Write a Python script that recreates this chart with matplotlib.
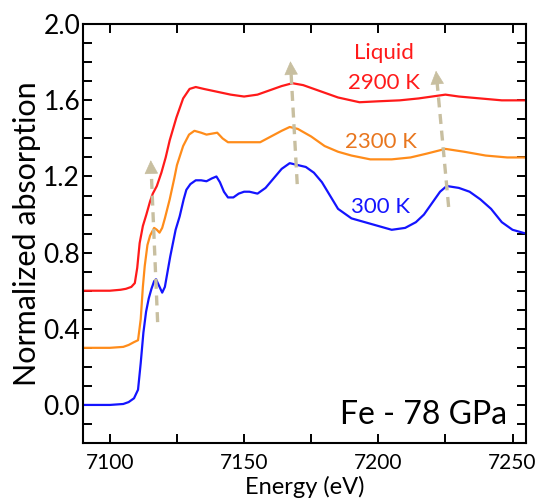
import matplotlib
matplotlib.use("Agg")
import matplotlib.pyplot as plt
from matplotlib.ticker import MultipleLocator

plt.rcParams['font.family'] = ['Lato', 'DejaVu Sans']

# 300 K (blue)
e_300 = [7090, 7100, 7105, 7107, 7109, 7110.5, 7111.5, 7112.5, 7113.5, 7114.5, 7115.5, 7116.5,
         7117.2, 7118.2, 7119.5, 7120.5, 7121.5, 7122.5, 7123.5, 7124.5, 7126, 7127.5, 7128.5,
         7130, 7132, 7134, 7136, 7138, 7139.7, 7141, 7142.5, 7144, 7146, 7148, 7150, 7152, 7155,
         7158, 7161, 7164, 7167, 7170, 7173, 7176, 7179, 7182, 7185, 7190, 7195, 7200, 7205,
         7210, 7214, 7217, 7220, 7223, 7225.5, 7230, 7234, 7238, 7242, 7246, 7250, 7255]
a_300 = [0.0, 0.0, 0.005, 0.015, 0.035, 0.08, 0.22, 0.38, 0.49, 0.56, 0.61, 0.65,
         0.66, 0.63, 0.59, 0.62, 0.70, 0.78, 0.85, 0.92, 0.99, 1.08, 1.13,
         1.16, 1.18, 1.18, 1.175, 1.19, 1.20, 1.17, 1.12, 1.09, 1.09, 1.11, 1.12, 1.12, 1.11,
         1.14, 1.19, 1.24, 1.27, 1.26, 1.25, 1.22, 1.17, 1.10, 1.03, 0.98, 0.96, 0.94, 0.92,
         0.93, 0.96, 1.00, 1.06, 1.12, 1.15, 1.14, 1.12, 1.08, 1.03, 0.96, 0.92, 0.90]

# 2300 K (orange)
e_2300 = [7090, 7100, 7105, 7107, 7109, 7110.5, 7111.5, 7112.3, 7113, 7114, 7115, 7116.5,
          7117.5, 7118.5, 7119.5, 7120.5, 7122.3, 7124, 7125, 7127.3, 7129.5, 7131.5, 7134,
          7136, 7138, 7140, 7142, 7144, 7150, 7156, 7160, 7164, 7167, 7170, 7175, 7180, 7185,
          7190, 7197, 7205, 7212, 7218, 7225, 7232, 7240, 7248, 7255]
a_2300 = [0.30, 0.30, 0.305, 0.315, 0.33, 0.34, 0.45, 0.62, 0.73, 0.84, 0.89, 0.93,
          0.92, 0.905, 0.93, 0.98, 1.08, 1.19, 1.26, 1.36, 1.42, 1.44, 1.43,
          1.42, 1.425, 1.43, 1.40, 1.38, 1.38, 1.38, 1.41, 1.44, 1.46, 1.45, 1.41, 1.36, 1.33,
          1.31, 1.29, 1.29, 1.30, 1.32, 1.345, 1.33, 1.31, 1.30, 1.30]

# 2900 K liquid (red)
e_2900 = [7090, 7100, 7104, 7106, 7108, 7109.3, 7110.2, 7111.1, 7112.3, 7113.6, 7115, 7116,
          7117.5, 7119.2, 7120.8, 7122.3, 7124.8, 7127.3, 7129.7, 7132, 7135, 7140, 7145, 7150,
          7155, 7160, 7164, 7168, 7172, 7178, 7185, 7193, 7200, 7208, 7215, 7220, 7225, 7230,
          7238, 7246, 7255]
a_2900 = [0.60, 0.60, 0.605, 0.61, 0.62, 0.64, 0.72, 0.85, 0.94, 1.00, 1.07, 1.11,
          1.15, 1.22, 1.30, 1.39, 1.51, 1.61, 1.66, 1.67, 1.66, 1.645, 1.63, 1.62,
          1.63, 1.655, 1.675, 1.69, 1.68, 1.65, 1.615, 1.59, 1.595, 1.60, 1.61, 1.62, 1.63, 1.62,
          1.61, 1.60, 1.60]

# arrows: (tail energy, tail y, tip energy, tip y)
arrows = [(7117.8, 0.435, 7115.2, 1.30),
          (7169.8, 1.16, 7167.2, 1.82),
          (7226.2, 1.04, 7221.4, 1.77)]

fig = plt.figure(figsize=(5.4, 5.04), dpi=100)
ax = fig.add_axes([0.1537, 0.121, 0.8203, 0.831])

ax.plot(e_300, a_300, color='#1414ff', lw=1.6)
ax.plot(e_2300, a_2300, color='#ff8c1a', lw=1.6)
ax.plot(e_2900, a_2900, color='#ff1a1a', lw=1.6)

acol = '#c8bfa0'
for x0, y0, x1, y1 in arrows:
    # dashed shaft stops short of the tip, head drawn separately
    f = 0.9
    xm = x0 + (x1 - x0) * f
    ym = y0 + (y1 - y0) * f
    ax.plot([x0, xm], [y0, ym], color=acol, lw=2.4, ls=(0, (3, 2)))
    ax.annotate('', xy=(x1, y1), xytext=(xm, ym),
                arrowprops=dict(arrowstyle='-|>,head_length=0.9,head_width=0.45',
                                color=acol, lw=0.5))

ax.text(7202, 1.85, 'Liquid', color='#ff1a1a', fontsize=16, ha='center', va='center')
ax.text(7202, 1.69, '2900 K', color='#ff1a1a', fontsize=16, ha='center', va='center')
ax.text(7201, 1.38, '2300 K', color='#e8761e', fontsize=16, ha='center', va='center')
ax.text(7201, 1.04, '300 K', color='#1414ff', fontsize=16, ha='center', va='center')
ax.text(7248, -0.1, 'Fe - 78 GPa', fontsize=23, ha='right', va='baseline')

ax.set_xlim(7090, 7255)
ax.set_ylim(-0.2, 2.0)
ax.xaxis.set_major_locator(MultipleLocator(50))
ax.xaxis.set_minor_locator(MultipleLocator(25))
ax.yaxis.set_minor_locator(MultipleLocator(0.1))
ax.set_yticks([0.0, 0.4, 0.8, 1.2, 1.6, 2.0])
ax.set_yticklabels(['0.0', '0.4', '0.8', '1.2', '1.6', '2.0'])
ax.tick_params(which='both', direction='in', top=True, right=True, length=6.5, width=1.4)
ax.tick_params(axis='x', labelsize=15, pad=7)
ax.tick_params(axis='y', labelsize=19, pad=2)
for s in ax.spines.values():
    s.set_linewidth(1.5)

ax.set_xlabel('Energy (eV)', fontsize=17, labelpad=2)
ax.set_ylabel('Normalized absorption', fontsize=22, labelpad=2)

fig.savefig('out.png', dpi=100)
